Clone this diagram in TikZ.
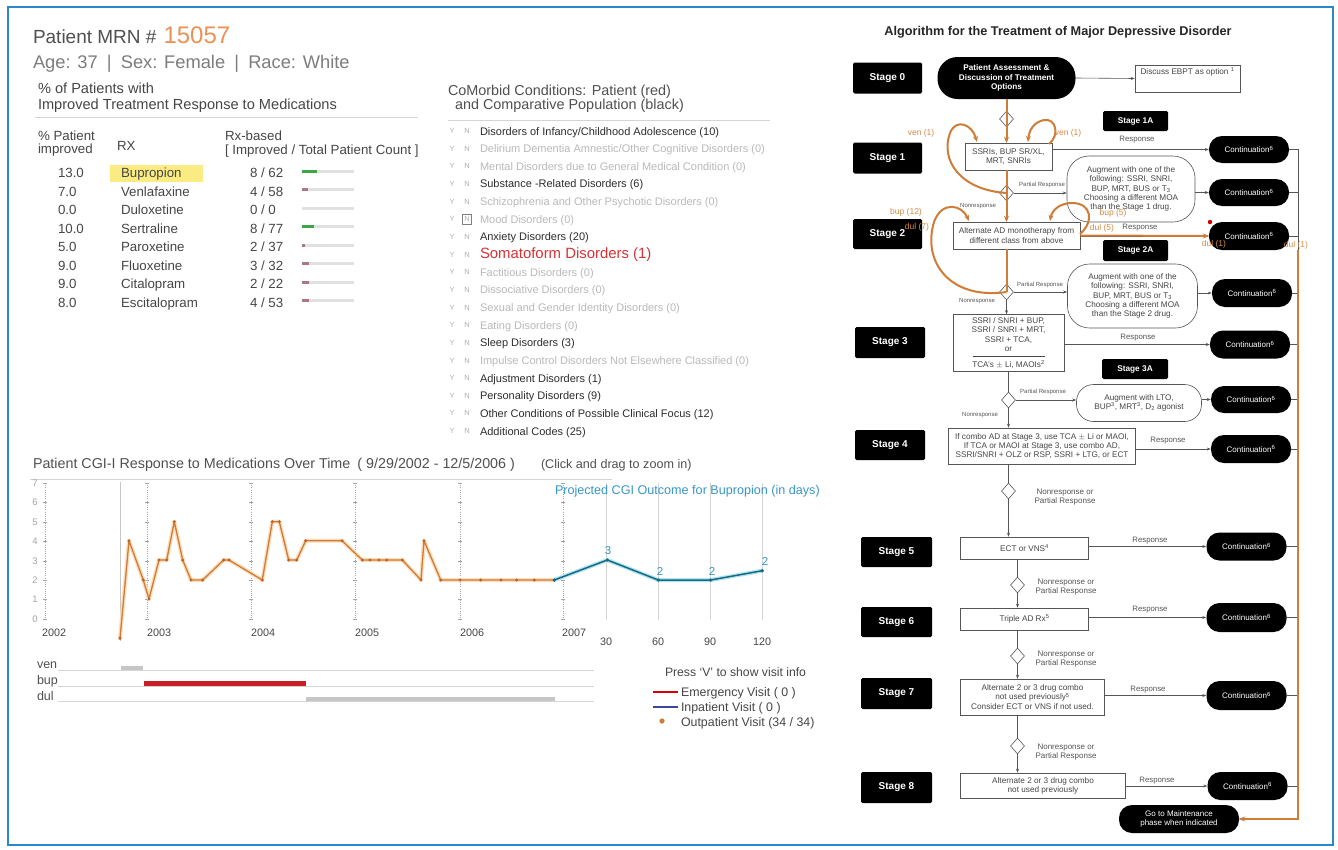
\documentclass[tikz,border=0pt]{standalone}
\usepackage{fontspec}
\setmainfont{Liberation Sans}
\usetikzlibrary{shapes.geometric,arrows.meta,calc}
\definecolor{frameblue}{RGB}{45,135,205}
\definecolor{txtgray}{RGB}{80,80,80}
\definecolor{agegray}{RGB}{125,125,125}
\definecolor{dk}{RGB}{70,70,70}
\definecolor{rulegray}{RGB}{212,212,212}
\definecolor{mrnorange}{RGB}{235,145,85}
\definecolor{traj}{RGB}{205,125,55}
\definecolor{trajglow}{RGB}{252,222,188}
\definecolor{trajdot}{RGB}{190,100,40}
\definecolor{trajtxt}{RGB}{215,140,70}
\definecolor{projblue}{RGB}{25,105,130}
\definecolor{projglow}{RGB}{175,228,242}
\definecolor{projtxt}{RGB}{55,150,200}
\definecolor{barred}{RGB}{200,30,40}
\definecolor{bargreen}{RGB}{60,165,70}
\definecolor{barmauve}{RGB}{170,120,130}
\definecolor{track}{RGB}{225,225,225}
\definecolor{hilite}{RGB}{250,236,130}
\definecolor{somared}{RGB}{215,50,55}
\definecolor{cmdk}{RGB}{45,45,45}
\definecolor{cmlt}{RGB}{185,185,185}
\definecolor{ynclr}{RGB}{175,175,175}
\definecolor{flowline}{RGB}{85,85,85}
\definecolor{gridgray}{RGB}{165,165,165}
\definecolor{medgray}{RGB}{198,198,198}
\definecolor{inblue}{RGB}{60,70,160}
\newcommand\fz[2]{\fontsize{#1}{#2}\selectfont}
\newcommand\trajlist{129/540.7,143.3/580,149/599,159/560,166.7/560,174.3/521.7,182.7/560,191/580,202.7/580,223.7/560,229/560,262.3/580,272.3/521.7,279.3/521.7,288.7/560,296.7/560,305.7/540.7,342/540.7,362.3/560,370/560,379/560,386.7/560,402.3/560,421/580,424/540.7,440.7/580,460/580,480.7/580,501/580,516.7/580,534.3/580,554.3/580}
\newcommand\projlist{607.3/560,658.3/580,710.7/580,762.3/570.7}
\begin{document}
\begin{tikzpicture}[x=1pt,y=-1pt,>={Stealth[length=4pt,width=3pt]},
  tight/.style={inner sep=0pt,outer sep=0pt},
  lefttxt/.style={tight,anchor=base west},
  cell/.style={lefttxt,text=dk,font=\fz{13.3}{15}},
  cmdark/.style={lefttxt,text=cmdk,font=\fz{11}{13}},
  cmlight/.style={lefttxt,text=cmlt,font=\fz{11}{13}},
  cmred/.style={lefttxt,text=somared,font=\fz{14.9}{17}},
  yn/.style={tight,text=ynclr,font=\fz{7.5}{9}},
  rulel/.style={draw=rulegray,line width=0.8pt},
  yearlbl/.style={lefttxt,text=dk,font=\fz{10.8}{12}},
  stagebox/.style={fill=black,text=white,rounded corners=1.5pt,font=\bfseries\fz{10}{11},inner sep=0pt},
  flowbox/.style={draw=flowline,fill=white,line width=0.6pt,font=\fz{8.2}{9.2},text=dk,align=center,inner sep=1pt},
  pillnode/.style={fill=black,text=white,rounded corners=13pt,font=\fz{8}{9},align=center,inner sep=0pt,minimum width=80,minimum height=27},
  ovalbox/.style={draw=flowline,fill=white,line width=0.6pt,rounded corners=18pt,font=\fz{8.2}{9.2},text=dk,align=center,inner sep=0pt},
  decis/.style={diamond,draw=flowline,fill=white,line width=0.6pt,minimum width=14,minimum height=16,inner sep=0pt},
  flowlbl/.style={tight,font=\fz{6}{7.5},text=flowline,align=center},
  resplbl/.style={tight,font=\fz{7.8}{9},text=flowline,align=center},
  nplbl/.style={tight,font=\fz{8}{9.5},text=flowline,align=center},
  flowarr/.style={draw=flowline,line width=0.6pt,->},
  flowln/.style={draw=flowline,line width=0.6pt},
  trajline/.style={draw=traj,line width=2pt},
  trajarr/.style={draw=traj,line width=2pt,-{Stealth[length=6pt,width=5pt]}},
  trajlbl/.style={tight,text=trajtxt,font=\fz{8.5}{10}}]
\useasboundingbox (0,0) rectangle (1338,849);
\fill[white] (0,0) rectangle (1338,849);
\draw[frameblue,line width=2pt] (8,7) rectangle (1333,845);

% ---------- header ----------
\node[lefttxt,text=txtgray,font=\fz{19}{22}] (mrn) at (33,43) {Patient MRN \#};
\node[lefttxt,text=mrnorange,font=\fz{24}{28}] (mrnno) at ($(mrn.base east)+(7,0)$) {15057};
\node[lefttxt,text=agegray,font=\fz{18.3}{21}] (demo) at (33,68) {Age: 37\enspace|\enspace Sex: Female\enspace|\enspace Race: White};
\node[lefttxt,text=dk,font=\fz{14.6}{17}] (pt1) at (38,93) {\% of Patients with};
\node[lefttxt,text=dk,font=\fz{14.6}{17}] (pt2) at (38,109) {Improved Treatment Response to Medications};
\draw[rulel] (35,117) -- (418,117);
\node[cell] (h1) at (38,140) {\% Patient};
\node[cell] (h2) at (38,153) {improved};
\node[cell] (h3) at (117,150) {RX};
\node[cell] (h4) at (225,140) {Rx-based};
\node[cell] (h5) at (225,154) {[ Improved / Total Patient Count ]};
\fill[hilite] (110,164.5) rectangle (203,182);
\newcommand\rxrow[7]{%
  \node[cell] (rp#1) at (58,#2+4.8) {#3};
  \node[cell] (rn#1) at (121,#2+4.8) {#4};
  \node[cell] (rc#1) at (250,#2+4.8) {#5};
  \fill[track] (302,#2-3.5) rectangle (354,#2-0.5);
  \fill[#7] (302,#2-3.5) rectangle (302+#6,#2-0.5);}
\rxrow{1}{173}{13.0}{Bupropion}{8 / 62}{15}{bargreen}
\rxrow{2}{191.5}{7.0}{Venlafaxine}{4 / 58}{6}{barmauve}
\rxrow{3}{210}{0.0}{Duloxetine}{0 / 0}{0}{track}
\rxrow{4}{228.5}{10.0}{Sertraline}{8 / 77}{12}{bargreen}
\rxrow{5}{247}{5.0}{Paroxetine}{2 / 37}{3}{barmauve}
\rxrow{6}{265.5}{9.0}{Fluoxetine}{3 / 32}{7}{barmauve}
\rxrow{7}{284}{9.0}{Citalopram}{2 / 22}{7}{barmauve}
\rxrow{8}{302.5}{8.0}{Escitalopram}{4 / 53}{7}{barmauve}

% ---------- comorbid ----------
\node[lefttxt,text=txtgray,font=\fz{14.4}{16}] (cm1) at (448,95) {CoMorbid Conditions: Patient (red)};
\node[lefttxt,text=txtgray,font=\fz{14.4}{16}] (cm2) at (455,109) {and Comparative Population (black)};
\draw[rulel] (448,120) -- (770,120);
\newcommand\cmrow[4]{%
  \node[yn] (cy#1) at (452,#2) {Y};
  \node[yn] (cn#1) at (467,#2) {N};
  \node[#3] (ct#1) at (480,#2+4) {#4};}
\cmrow{1}{131}{cmdark}{Disorders of Infancy/Childhood Adolescence (10)}
\cmrow{2}{148.65}{cmlight}{Delirium Dementia Amnestic/Other Cognitive Disorders (0)}
\cmrow{3}{166.3}{cmlight}{Mental Disorders due to General Medical Condition (0)}
\cmrow{4}{183.95}{cmdark}{Substance -Related Disorders (6)}
\cmrow{5}{201.6}{cmlight}{Schizophrenia and Other Psychotic Disorders (0)}
\cmrow{6}{219.25}{cmlight}{Mood Disorders (0)}
\cmrow{7}{236.9}{cmdark}{Anxiety Disorders (20)}
\cmrow{8}{254.55}{cmred}{Somatoform Disorders (1)}
\cmrow{9}{272.2}{cmlight}{Factitious Disorders (0)}
\cmrow{10}{289.85}{cmlight}{Dissociative Disorders (0)}
\cmrow{11}{307.5}{cmlight}{Sexual and Gender Identity Disorders (0)}
\cmrow{12}{325.15}{cmlight}{Eating Disorders (0)}
\cmrow{13}{342.8}{cmdark}{Sleep Disorders (3)}
\cmrow{14}{360.45}{cmlight}{Impulse Control Disorders Not Elsewhere Classified (0)}
\cmrow{15}{378.1}{cmdark}{Adjustment Disorders (1)}
\cmrow{16}{395.75}{cmdark}{Personality Disorders (9)}
\cmrow{17}{413.4}{cmdark}{Other Conditions of Possible Clinical Focus (12)}
\cmrow{18}{431.05}{cmdark}{Additional Codes (25)}
\node[draw=gray,line width=0.6pt,minimum width=9,minimum height=10,inner sep=0pt] (nbox) at (cn6) {};

% ---------- chart ----------
\node[lefttxt,text=txtgray,font=\fz{14.3}{16}] (ctitle) at (33,468) {Patient CGI-I Response to Medications Over Time\enspace ( 9/29/2002 - 12/5/2006 )};
\node[lefttxt,text=txtgray,font=\fz{12.6}{14}] (czoom) at (541,468) {(Click and drag to zoom in)};
\draw[rulel] (30,479) -- (612,479);
\foreach \gx in {45,147,251,355,460,563} {
  \draw[gridgray,line width=0.6pt,dash pattern=on 1pt off 1.2pt] (\gx,483) -- (\gx,619);
  \foreach \v in {0,...,7} \draw[gridgray,line width=0.6pt] ({\gx-2},{619-19.4*\v}) -- ({\gx+2},{619-19.4*\v});
}
\foreach \v in {0,...,7} \node[tight,text=gridgray,font=\fz{9.5}{10}] (yl\v) at (35,{619-19.4*\v}) {\v};
\draw[medgray,line width=1pt] (120,482) -- (120,641);
\foreach \gx in {606,658,710,762} \draw[rulegray,line width=0.7pt] (\gx,483) -- (\gx,620);
\node[yearlbl] (y2002) at (42,636) {2002};
\node[yearlbl] (y2003) at (147,636) {2003};
\node[yearlbl] (y2004) at (251,636) {2004};
\node[yearlbl] (y2005) at (355,636) {2005};
\node[yearlbl] (y2006) at (460,636) {2006};
\node[yearlbl] (y2007) at (562,636) {2007};
\node[tight,text=dk,font=\fz{10.8}{12}] (d30) at (606,642) {30};
\node[tight,text=dk,font=\fz{10.8}{12}] (d60) at (658,642) {60};
\node[tight,text=dk,font=\fz{10.8}{12}] (d90) at (710,642) {90};
\node[tight,text=dk,font=\fz{10.8}{12}] (d120) at (762,642) {120};
\node[lefttxt,text=projtxt,font=\fz{12.6}{14}] (projt) at (555,494) {Projected CGI Outcome for Bupropion (in days)};
% trajectory
\draw[trajglow,line width=4pt,line join=round] (120,638.3) \foreach \px/\py in \trajlist {-- (\px,\py)};
\draw[traj,line width=1.3pt,line join=round] (120,638.3) \foreach \px/\py in \trajlist {-- (\px,\py)};
\fill[trajdot] (120,638.3) circle (1.7);
\foreach \px/\py in \trajlist \fill[trajdot] (\px,\py) circle (1.7);
\draw[projglow,line width=4pt,line join=round] (554.3,580) \foreach \px/\py in \projlist {-- (\px,\py)};
\draw[projblue,line width=1.5pt,line join=round] (554.3,580) \foreach \px/\py in \projlist {-- (\px,\py)};
\fill[projblue] (554.3,580) circle (1.8);
\foreach \px/\py in \projlist \fill[projblue] (\px,\py) circle (1.8);
\node[tight,text=projtxt,font=\fz{11.5}{12}] (pv1) at (608,551) {3};
\node[tight,text=projtxt,font=\fz{11.5}{12}] (pv2) at (660,571) {2};
\node[tight,text=projtxt,font=\fz{11.5}{12}] (pv3) at (712,571) {2};
\node[tight,text=projtxt,font=\fz{11.5}{12}] (pv4) at (765,561) {2};
% medication bars
\node[lefttxt,text=txtgray,font=\fz{12.5}{13}] (mven) at (37,668) {ven};
\node[lefttxt,text=txtgray,font=\fz{12.5}{13}] (mbup) at (37,684) {bup};
\node[lefttxt,text=txtgray,font=\fz{12.5}{13}] (mdul) at (37,700) {dul};
\draw[rulegray,line width=0.7pt] (58,670.5) -- (594,670.5);
\draw[rulegray,line width=0.7pt] (58,686) -- (594,686);
\draw[rulegray,line width=0.7pt] (58,701.5) -- (594,701.5);
\fill[medgray] (121,666) rectangle (143,670);
\fill[barred] (144,680.5) rectangle (305.5,685.5);
\fill[medgray] (305.5,697) rectangle (555,701);
% legend
\node[lefttxt,text=dk,font=\fz{12.2}{13}] (press) at (665,676) {Press `V' to show visit info};
\draw[red!85!black,line width=1.4pt] (653,692) -- (678,692);
\node[lefttxt,text=dk,font=\fz{12.4}{13}] (lemer) at (681,696) {Emergency Visit ( 0 )};
\draw[inblue,line width=1.4pt] (653,707) -- (678,707);
\node[lefttxt,text=dk,font=\fz{12.4}{13}] (linp) at (681,711) {Inpatient Visit ( 0 )};
\fill[traj] (662,721) circle (2.6);
\node[lefttxt,text=dk,font=\fz{12.4}{13}] (loutp) at (681,726) {Outpatient Visit (34 / 34)};

% ---------- flowchart ----------
\node[tight,text=black!85,font=\bfseries\fz{12.7}{14}] (ftitle) at (1058,32) {Algorithm for the Treatment of Major Depressive Disorder};
\node[stagebox,minimum width=69,minimum height=31] (st0) at (887.5,78) {Stage 0};
\node[stagebox,minimum width=69,minimum height=31] (st1) at (887.5,158) {Stage 1};
\node[stagebox,minimum width=69,minimum height=30] (st2) at (887.5,234) {Stage 2};
\node[stagebox,minimum width=70,minimum height=31] (st3) at (890,342.5) {Stage 3};
\node[stagebox,minimum width=70,minimum height=30] (st4) at (890,445) {Stage 4};
\node[stagebox,minimum width=71,minimum height=30] (st5) at (896.5,552) {Stage 5};
\node[stagebox,minimum width=71,minimum height=30] (st6) at (896.5,622) {Stage 6};
\node[stagebox,minimum width=71,minimum height=31] (st7) at (896.5,693.5) {Stage 7};
\node[stagebox,minimum width=71,minimum height=31] (st8) at (896.5,787.5) {Stage 8};
\node[stagebox,font=\bfseries\fz{8.3}{9},minimum width=65,minimum height=20] (st1a) at (1135.5,121) {Stage 1A};
\node[stagebox,font=\bfseries\fz{8.3}{9},minimum width=65,minimum height=21] (st2a) at (1135.5,250.5) {Stage 2A};
\node[stagebox,font=\bfseries\fz{8.3}{9},minimum width=66,minimum height=20] (st3a) at (1135,369) {Stage 3A};

\node[pillnode,font=\bfseries\fz{8.2}{9.3},minimum width=138,minimum height=42,rounded corners=20pt] (pa) at (1006.5,78) {Patient Assessment \&\\Discussion of Treatment\\Options};
\node[flowbox,minimum width=105,minimum height=27] (ebpt) at (1187.5,78.5) {};
\node[tight,font=\fz{8.2}{9},text=dk] (ebptt) at ($(ebpt.north)+(0,7)$) {Discuss EBPT as option \textsuperscript{1}};
\node[decis] (d0) at (1006.5,119) {};
\node[flowbox,minimum width=87,minimum height=27] (s1box) at (1008.5,156.5) {SSRIs, BUP SR/XL,\\MRT, SNRIs};
\node[decis] (d1) at (1006.5,193) {};
\node[ovalbox,minimum width=128,minimum height=66,rounded corners=22pt] (aug1) at (1131,189) {Augment with one of the\\following: SSRI, SNRI,\\BUP, MRT, BUS or T\textsubscript{3}\\Choosing a different MOA\\than the Stage 1 drug.};
\node[pillnode] (cont1) at (1249,149.5) {Continuation\textsuperscript{6}};
\node[pillnode] (cont2) at (1249,192.5) {Continuation\textsuperscript{6}};
\node[pillnode,minimum height=28] (cont3) at (1249,236) {Continuation\textsuperscript{6}};
\node[flowbox,minimum width=127,minimum height=27] (s2box) at (1016.5,235.5) {Alternate AD monotherapy from\\different class from above};
\node[decis] (d2) at (1006.5,292) {};
\node[ovalbox,minimum width=130,minimum height=64,rounded corners=22pt] (aug2) at (1132.5,296) {Augment with one of the\\following: SSRI, SNRI,\\BUP, MRT, BUS or T\textsubscript{3}\\Choosing a different MOA\\than the Stage 2 drug.};
\node[pillnode,minimum height=28] (cont4) at (1252,293) {Continuation\textsuperscript{6}};
\node[flowbox,minimum width=111,minimum height=57] (s3box) at (1008.5,343) {SSRI / SNRI + BUP,\\SSRI / SNRI + MRT,\\SSRI + TCA,\\or\\[-4pt]\rule{72pt}{0.5pt}\\[1.5pt]TCA's $\pm$ Li, MAOIs\textsuperscript{2}};
\node[pillnode,minimum height=28] (cont5) at (1250,344.5) {Continuation\textsuperscript{6}};
\node[decis] (d3) at (1008.5,400) {};
\node[ovalbox,minimum width=125,minimum height=37,rounded corners=17pt] (aug3) at (1139,403) {Augment with LTO,\\BUP\textsuperscript{3}, MRT\textsuperscript{3}, D\textsubscript{2} agonist};
\node[pillnode] (cont6) at (1251,399.5) {Continuation\textsuperscript{6}};
\node[flowbox,minimum width=187,minimum height=36] (s4box) at (1042,446) {If combo AD at Stage 3, use TCA $\pm$ Li or MAOI,\\If TCA or MAOI at Stage 3, use combo AD,\\SSRI/SNRI + OLZ or RSP, SSRI + LTG, or ECT};
\node[pillnode,minimum height=28] (cont7) at (1251,449) {Continuation\textsuperscript{6}};
\node[decis] (d4) at (1008.5,491) {};
\node[flowbox,minimum width=128,minimum height=22] (s5box) at (1024.5,548) {ECT or VNS\textsuperscript{4}};
\node[pillnode,minimum height=28] (cont8) at (1246.5,546.5) {Continuation\textsuperscript{6}};
\node[decis] (d5) at (1017.5,585) {};
\node[flowbox,minimum width=128,minimum height=22] (s6box) at (1024.5,619) {Triple AD Rx\textsuperscript{5}};
\node[pillnode,minimum height=29] (cont9) at (1246.5,617.5) {Continuation\textsuperscript{6}};
\node[decis] (d6) at (1017.5,656) {};
\node[flowbox,minimum width=144,minimum height=36] (s7box) at (1032.5,697) {Alternate 2 or 3 drug combo\\not used previously\textsuperscript{5}\\Consider ECT or VNS if not used.};
\node[pillnode,minimum height=29] (cont10) at (1246.5,695.5) {Continuation\textsuperscript{6}};
\node[decis] (d7) at (1017.5,746) {};
\node[flowbox,minimum width=165,minimum height=25] (s8box) at (1043,785.5) {Alternate 2 or 3 drug combo\\not used previously};
\node[pillnode,minimum height=28] (cont11) at (1247.5,786) {Continuation\textsuperscript{6}};
\node[pillnode,minimum width=120,minimum height=28] (maint) at (1179,819) {Go to Maintenance\\phase when indicated};
\coordinate (rtop) at (1298,149.5);
\coordinate (rbot) at (1298,819);

% black connectors
\draw[flowarr] (pa.east) -- (ebpt.west);
\draw[flowln] (pa.south) -- (d0.north);
\draw[flowarr] (d0.south) -- (s1box.north -| d0.south);
\draw[flowarr] (s1box.east |- cont1.west) -- (cont1.west);
\draw[flowln] (s1box.south -| d1.north) -- (d1.north);
\draw[flowarr] (d1.east) -- (aug1.west |- d1.east);
\draw[flowarr] (aug1.east |- cont2.west) -- (cont2.west);
\draw[flowarr] (d1.south) -- (s2box.north -| d1.south);
\draw[flowarr] (s2box.east |- cont3.west) -- (cont3.west);
\draw[flowln] (s2box.south -| d2.north) -- (d2.north);
\draw[flowarr] (d2.east) -- (aug2.west |- d2.east);
\draw[flowarr] (aug2.east |- cont4.west) -- (cont4.west);
\draw[flowarr] (d2.south) -- (s3box.north -| d2.south);
\draw[flowarr] (s3box.east |- cont5.west) -- (cont5.west);
\draw[flowln] (s3box.south -| d3.north) -- (d3.north);
\draw[flowarr] (d3.east) -- (aug3.west |- d3.east);
\draw[flowarr] (aug3.east |- cont6.west) -- (cont6.west);
\draw[flowarr] (d3.south) -- (s4box.north -| d3.south);
\draw[flowarr] (s4box.east |- cont7.west) -- (cont7.west);
\draw[flowln] (s4box.south -| d4.north) -- (d4.north);
\draw[flowarr] (d4.south) -- (s5box.north -| d4.south);
\draw[flowarr] (s5box.east |- cont8.west) -- (cont8.west);
\draw[flowln] (s5box.south -| d5.north) -- (d5.north);
\draw[flowarr] (d5.south) -- (s6box.north -| d5.south);
\draw[flowarr] (s6box.east |- cont9.west) -- (cont9.west);
\draw[flowln] (s6box.south -| d6.north) -- (d6.north);
\draw[flowarr] (d6.south) -- (s7box.north -| d6.south);
\draw[flowarr] (s7box.east |- cont10.west) -- (cont10.west);
\draw[flowln] (s7box.south -| d7.north) -- (d7.north);
\draw[flowarr] (d7.south) -- (s8box.north -| d7.south);
\draw[flowarr] (s8box.east |- cont11.west) -- (cont11.west);
\draw[flowln] (cont1.east) -- (rtop) -- (rbot);
\foreach \c in {cont2,cont3,cont4,cont5,cont6,cont7,cont8,cont9,cont10,cont11} \draw[flowln] (\c.east) -- (\c.east -| rtop);
\draw[flowarr] (rbot) -- (maint.east);

% flow labels
\node[resplbl] (lr1) at (1137,140) {Response};
\node[flowlbl] (lp1) at (1042,185) {Partial Response};
\node[flowlbl] (ln1) at (978,206) {Nonresponse};
\node[resplbl] (lr2) at (1140,228) {Response};
\node[flowlbl] (lp2) at (1040,285) {Partial Response};
\node[flowlbl] (ln2) at (977,301) {Nonresponse};
\node[resplbl] (lr3) at (1138,338) {Response};
\node[flowlbl] (lp3) at (1043,392) {Partial Response};
\node[flowlbl] (ln3) at (980,415) {Nonresponse};
\node[resplbl] (lr4) at (1168,441) {Response};
\node[nplbl] (lnp4) at (1065,497) {Nonresponse or\\Partial Response};
\node[resplbl] (lr5) at (1150,541) {Response};
\node[nplbl] (lnp5) at (1066,587) {Nonresponse or\\Partial Response};
\node[resplbl] (lr6) at (1150,610) {Response};
\node[nplbl] (lnp6) at (1066,659) {Nonresponse or\\Partial Response};
\node[resplbl] (lr7) at (1148,690) {Response};
\node[nplbl] (lnp7) at (1066,752) {Nonresponse or\\Partial Response};
\node[resplbl] (lr8) at (1157,781) {Response};

% orange patient trajectory
\draw[trajarr] (pa.south) -- (s1box.north -| pa.south);
\draw[trajarr] (s1box.south -| pa.south) -- (s2box.north -| pa.south);
\draw[trajline] (s2box.south -| pa.south) -- (d2.center);
\draw[trajarr] (d2.center) .. controls (950,300) and (922,262) .. (934,222) .. controls (942,200) and (962,205) .. (969,221);
\draw[trajarr] (d1.center) .. controls (960,190) and (940,160) .. (950,133) .. controls (956,118) and (972,124) .. (977,142);
\draw[trajarr] (1049,144) .. controls (1060,135) and (1056,118) .. (1044,120) .. controls (1034,122) and (1029,130) .. (1028,142);
\draw[trajarr] (1080,234) .. controls (1094,222) and (1092,203) .. (1072,203) .. controls (1060,203) and (1052,210) .. (1050,221);
\draw[trajarr] (s2box.east) -- (cont3.west);
\draw[trajarr] (1298,250) |- (maint.east);
\fill[red!80!black] (1210,222) circle (2.2);
\node[trajlbl] (tv1) at (921,133) {ven (1)};
\node[trajlbl] (tv2) at (1068,133) {ven (1)};
\node[trajlbl] (tb12) at (906,212) {bup (12)};
\node[trajlbl] (td7) at (917,227) {dul (7)};
\node[trajlbl] (tb5) at (1113,213) {bup (5)};
\node[trajlbl] (td5) at (1102,228) {dul (5)};
\node[trajlbl] (td1a) at (1214,244) {dul (1)};
\node[trajlbl] (td1b) at (1296,245) {dul (1)};
\end{tikzpicture}
\end{document}
